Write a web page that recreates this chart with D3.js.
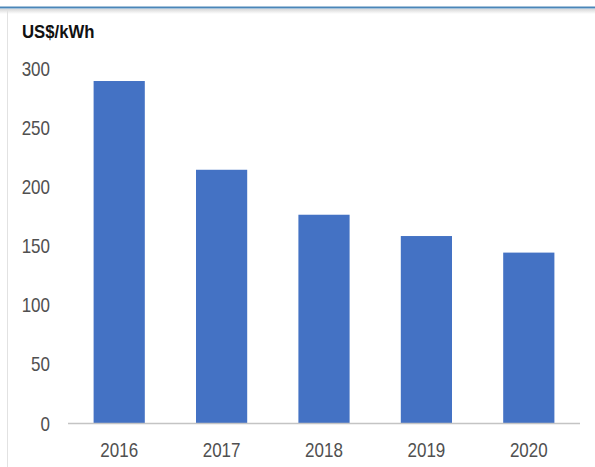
<!DOCTYPE html>
<html><head><meta charset="utf-8">
<script src="https://cdn.jsdelivr.net/npm/d3@7"></script>
<style>html,body{margin:0;padding:0;background:#fff;}svg{display:block;}</style>
</head><body>
<script>
const years = ["2016","2017","2018","2019","2020"];
const prices = [289, 214, 176, 158, 144];
const yTicks = [0, 50, 100, 150, 200, 250, 300];
const unitLabel = "US$/kWh";

const W = 595, H = 467;
const FONT = "Liberation Sans, Arial, sans-serif";
const svg = d3.select("body").append("svg").attr("width", W).attr("height", H);

// frame decorations
const grad = svg.append("defs").append("linearGradient").attr("id","sh").attr("x1",0).attr("y1",0).attr("x2",0).attr("y2",1);
grad.append("stop").attr("offset","0%").attr("stop-color","#d8d8d8");
grad.append("stop").attr("offset","100%").attr("stop-color","#ffffff");
svg.append("rect").attr("x",0).attr("y",9).attr("width",W).attr("height",5).attr("fill","url(#sh)");
svg.append("line").attr("x1",0).attr("x2",W).attr("y1",7.5).attr("y2",7.5).attr("stroke","#4a86b8").attr("stroke-width",2);
svg.append("line").attr("x1",7.5).attr("x2",7.5).attr("y1",10).attr("y2",H).attr("stroke","#e2e2e2").attr("stroke-width",1);

const x = d3.scaleBand().domain(years).range([68, 580]).paddingInner(0.5).paddingOuter(0.25);
const y = d3.scaleLinear().domain([0, 300]).range([423, 68]);

svg.append("g").selectAll("rect").data(years).join("rect")
  .attr("x", d => x(d))
  .attr("width", x.bandwidth())
  .attr("y", (d,i) => y(prices[i]))
  .attr("height", (d,i) => y(0) - y(prices[i]))
  .attr("fill", "#4472c4");

// baseline
svg.append("line").attr("x1",68).attr("x2",580).attr("y1",y(0)+0.5).attr("y2",y(0)+0.5).attr("stroke","#c4c4c4").attr("stroke-width",1.5);

// y tick labels (condensed, tall glyphs)
svg.append("g").selectAll("text").data(yTicks).join("text")
  .attr("transform", d => `translate(50,${y(d) + 7.5}) scale(0.85,1)`)
  .attr("text-anchor","end")
  .attr("font-family",FONT).attr("font-size",20).attr("fill","#505050")
  .text(d => d);

// x tick labels
svg.append("g").selectAll("text").data(years).join("text")
  .attr("transform", d => `translate(${x(d) + x.bandwidth()/2},457) scale(0.85,1)`)
  .attr("text-anchor","middle")
  .attr("font-family",FONT).attr("font-size",20).attr("fill","#505050")
  .text(d => d);

svg.append("text").attr("transform","translate(22,38) scale(0.93,1)").text(unitLabel)
  .attr("font-family",FONT).attr("font-size",18).attr("font-weight","bold").attr("fill","#111");
</script>
</body></html>
